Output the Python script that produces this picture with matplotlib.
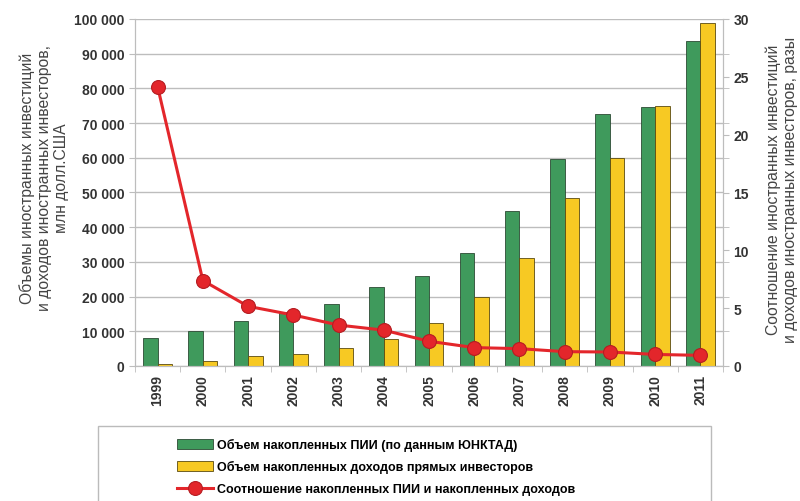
import numpy as np
import matplotlib.pyplot as plt
from matplotlib.patches import Rectangle
from matplotlib.ticker import FuncFormatter, MultipleLocator

plt.rcParams['font.family'] = ['Liberation Sans', 'DejaVu Sans']

# data
years = ['1999', '2000', '2001', '2002', '2003', '2004', '2005',
         '2006', '2007', '2008', '2009', '2010', '2011']
fdi_stock = [8100, 10000, 12950, 15500, 17900, 22900, 25800,
             32700, 44700, 59600, 72600, 74500, 93750]
income_stock = [500, 1450, 2900, 3400, 5200, 7700, 12500,
                19900, 31250, 48400, 59800, 74900, 98750]
ratio = [24.15, 7.39, 5.16, 4.41, 3.54, 3.10, 2.14,
         1.59, 1.50, 1.24, 1.21, 1.00, 0.92]

green = '#3f9a5c'
yellow = '#f7c923'
red = '#e3262b'
grid_c = '#bdbdbd'

fig = plt.figure(figsize=(8, 5.02), dpi=100)
ax = fig.add_axes([135/800, 1 - 367/502, (723 - 135)/800, (367 - 20)/502])

x = np.arange(len(years))
w = 0.32
ax.bar(x - w/2, fdi_stock, w, color=green, edgecolor='#2c4a34', linewidth=0.6, zorder=2,
       label='Объем накопленных ПИИ (по данным ЮНКТАД)')
ax.bar(x + w/2, income_stock, w, color=yellow, edgecolor='#5a4a10', linewidth=0.6, zorder=2,
       label='Объем накопленных доходов прямых инвесторов')

ax.set_xlim(-0.5, len(years) - 0.5)
ax.set_ylim(0, 100000)
ax.yaxis.set_major_locator(MultipleLocator(10000))
ax.yaxis.set_major_formatter(FuncFormatter(lambda v, p: f'{int(v):,}'.replace(',', ' ')))
ax.grid(axis='y', color=grid_c, linewidth=1, zorder=0)
ax.set_axisbelow(True)
ax.set_xticks(x)
ax.set_xticklabels(years, rotation=90, fontsize=10, fontweight='bold', color='#333333')
ax.set_xticks(np.arange(-0.5, len(years)), minor=True)
ax.tick_params(axis='x', which='major', length=0, pad=6)
ax.tick_params(axis='x', which='minor', length=4, color=grid_c)
ax.tick_params(axis='y', length=4, color=grid_c, labelsize=10, labelcolor='#333333')
for lab in ax.get_yticklabels():
    lab.set_fontweight('bold')
ax.spines['top'].set_visible(False)
for s in ['left', 'bottom', 'right']:
    ax.spines[s].set_color(grid_c)

ax2 = ax.twinx()
ax2.plot(x, ratio, color=red, linewidth=2.2, marker='o', markersize=10,
         markerfacecolor=red, markeredgecolor='#b51d22', markeredgewidth=0.8, zorder=3,
         label='Соотношение накопленных ПИИ и накопленных доходов')
ax2.set_ylim(0, 30)
ax2.yaxis.set_major_locator(MultipleLocator(5))
ax2.yaxis.set_minor_locator(MultipleLocator(3))
ax2.tick_params(axis='y', which='both', length=4, color=grid_c, labelsize=10, labelcolor='#333333')
ax2.set_xlim(-0.5, len(years) - 0.5)
for lab in ax2.get_yticklabels():
    lab.set_fontweight('bold')
ax2.spines['top'].set_visible(False)
for s in ['left', 'bottom', 'right']:
    ax2.spines[s].set_color(grid_c)

# axis titles placed by hand
fig.text(44/800, 1 - 178/502,
         'Объемы иностранных инвестиций\nи доходов иностранных инвесторов,\nмлн долл.США',
         rotation=90, ha='center', va='center', fontsize=11.3, color='#444444',
         linespacing=1.2, multialignment='center')
fig.text(782/800, 1 - 190/502,
         'Соотношение иностранных инвестиций\nи доходов иностранных инвесторов, разы',
         rotation=90, ha='center', va='center', fontsize=11.3, color='#444444',
         linespacing=1.2, multialignment='center')

# legend box below the chart
box = Rectangle((98/800, -0.05), (711 - 98)/800, (1 - 427/502) + 0.05,
                transform=fig.transFigure, fill=False, edgecolor='#bbbbbb', linewidth=1)
fig.patches.append(box)
h1, l1 = ax.get_legend_handles_labels()
h2, l2 = ax2.get_legend_handles_labels()
fig.legend(h1 + h2, l1 + l2, loc='upper left', bbox_to_anchor=(172/800, 1 - 434/502),
           frameon=False, handlelength=2.9, handleheight=0.9,
           labelspacing=0.75, handletextpad=0.3, borderaxespad=0,
           prop={'weight': 'bold', 'size': 9})

fig.savefig('out.png', dpi=100)
